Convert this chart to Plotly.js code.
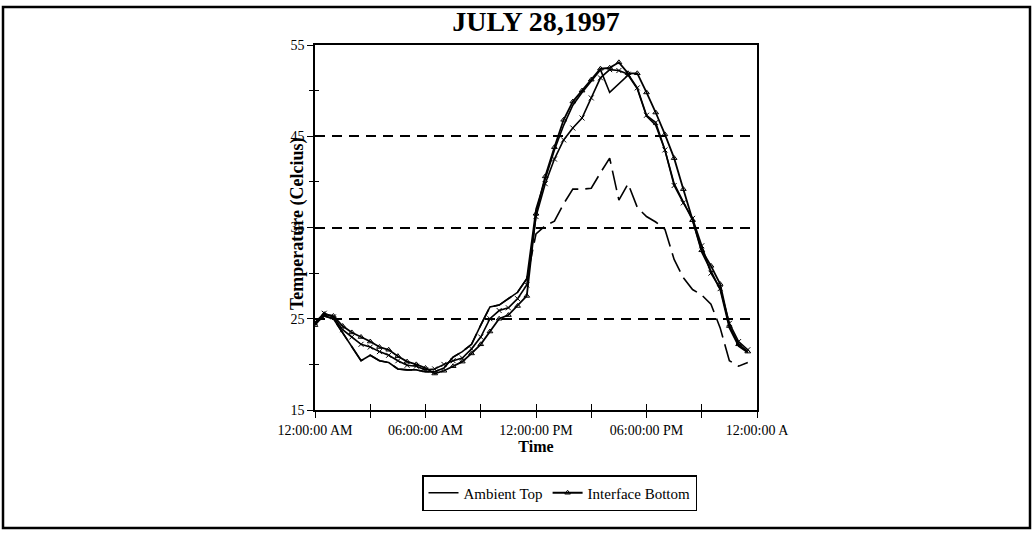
<!DOCTYPE html>
<html><head><meta charset="utf-8">
<script src="https://cdn.plot.ly/plotly-3.0.1.min.js"></script>
<style>html,body{margin:0;padding:0;background:#fff;}</style>
</head><body>
<div id="chart" style="width:1033px;height:535px;"></div>
<script>
// time of day in hours (half-hourly readings)
const hours = [0,0.5,1,1.5,2,2.5,3,3.5,4,4.5,5,5.5,6,6.5,7,7.5,8,8.5,9,9.5,10,10.5,11,11.5,
               12,12.5,13,13.5,14,14.5,15,15.5,16,16.5,17,17.5,18,18.5,19,19.5,20,20.5,21,21.5,22,22.5,23,23.5];

const ambientTop = [24.5,25.3,25.0,23.5,22.0,20.4,21.0,20.4,20.2,19.5,19.4,19.4,19.2,19.2,19.6,20.8,21.4,22.2,24.3,26.3,26.5,27.2,27.9,29.4,
                    37.0,40.3,43.5,46.2,48.4,49.8,51.0,52.3,49.8,50.8,51.7,50.2,47.2,46.2,43.5,39.8,37.8,35.8,32.3,30.2,28.2,24.0,22.0,21.3];

const ambientBottom = [24.5,25.3,25.0,23.5,22.0,20.4,21.0,20.4,20.2,19.5,19.4,19.4,19.2,19.2,19.6,20.8,21.4,22.2,24.3,26.3,26.5,27.2,27.9,29.4,
                       34.3,35.2,35.7,37.6,39.2,39.2,39.3,41.0,42.6,38.0,39.8,37.2,36.2,35.6,34.8,31.5,29.5,28.2,27.6,26.6,24.0,20.4,19.8,20.2];

const interfaceTop = [24.6,25.6,25.2,23.8,23.0,22.2,21.9,21.4,21.0,20.4,19.9,19.8,19.4,19.5,20.0,20.4,20.7,21.7,23.0,25.0,25.9,26.2,27.2,28.7,
                      36.2,39.8,42.5,44.6,45.9,47.0,49.2,51.4,52.3,52.2,51.8,50.3,47.3,46.5,43.5,39.6,37.7,36.0,33.0,30.0,28.3,24.5,22.5,21.6];

const interfaceBottom = [24.3,25.5,25.3,24.2,23.5,23.0,22.5,21.9,21.6,20.9,20.3,20.0,19.6,19.0,19.3,19.8,20.3,21.2,22.2,23.6,25.0,25.4,26.4,27.5,
                         36.5,40.6,43.8,46.8,48.8,50.0,51.2,52.4,52.5,53.1,51.9,51.9,49.8,47.6,45.2,42.6,39.2,35.8,32.5,30.8,28.8,24.2,22.2,21.4];

const xTickVals = [0,3,6,9,12,15,18,21,24];
const xTickText = ["12:00:00 AM","","06:00:00 AM","","12:00:00 PM","","06:00:00 PM","","12:00:00 A"];
const yTickVals = [15,25,35,45,55];
const yTickText = ["15","25","35","45","55"];

const FONT = "Liberation Serif, Times New Roman, serif";

const traces = [
  {x: hours, y: ambientBottom, name: "Ambient Bottom", mode: "lines", showlegend: false,
   line: {color: "#000", width: 1.6, dash: "20px,7px"}},
  {x: hours, y: ambientTop, name: "Ambient Top", mode: "lines",
   line: {color: "#000", width: 1.6}},
  {x: hours, y: interfaceTop, name: "Interface Top", mode: "lines+markers", showlegend: false,
   line: {color: "#000", width: 1.6},
   marker: {symbol: "x-thin-open", size: 5, color: "#000", line: {color: "#000", width: 1}}},
  {x: hours, y: interfaceBottom, name: "Interface Bottom", mode: "lines+markers",
   line: {color: "#000", width: 1.8},
   marker: {symbol: "triangle-up-open", size: 5, color: "#000", line: {color: "#000", width: 1}}},
  {x: [], y: [], xaxis: "x2", yaxis: "y2", showlegend: false, hoverinfo: "skip"}
];

function px(v){ return (v - 315) / 442; }
function py(v){ return (410 - v) / 365; }

const layout = {
  width: 1033, height: 535,
  margin: {l: 315, r: 276, t: 45, b: 125},
  paper_bgcolor: "#fff", plot_bgcolor: "#fff",
  font: {family: FONT, color: "#000", size: 14},
  title: {text: "<b>JULY 28,1997</b>", font: {family: FONT, size: 28, color: "#000"},
          x: 0.5, xref: "paper", xanchor: "center", y: 0.96, yref: "container", yanchor: "middle"},
  xaxis: {range: [0, 24], tickvals: xTickVals, ticktext: xTickText, ticks: "outside", ticklen: 6,
          tickcolor: "#000", tickwidth: 1, showline: true, linecolor: "#000", linewidth: 1.8,
          mirror: true, showgrid: false, zeroline: false, tickfont: {family: FONT, size: 14},
          title: {text: "<b>Time</b>", font: {family: FONT, size: 16}, standoff: 0}},
  yaxis: {range: [15, 55], tickvals: yTickVals, ticktext: yTickText, ticks: "outside", ticklen: 6,
          tickcolor: "#000", showline: true, linecolor: "#000", linewidth: 1.8, mirror: true,
          showgrid: true, gridcolor: "#000", gridwidth: 2, griddash: "10px,7px",
          zeroline: false, tickfont: {family: FONT, size: 14},
          minor: {tickvals: [20,30,40,50], ticks: "outside", ticklen: 4, tickcolor: "#000", showgrid: false}},
  xaxis2: {overlaying: "x", anchor: "y", side: "bottom", range: [0, 24], tickvals: xTickVals,
           ticks: "inside", ticklen: 6, tickcolor: "#000", showticklabels: false, showgrid: false,
           showline: false, zeroline: false},
  yaxis2: {overlaying: "y", anchor: "x", side: "left", range: [15, 55], tickvals: [15,20,25,30,35,40,45,50,55],
           ticks: "inside", ticklen: 4, tickcolor: "#000", showticklabels: false, showgrid: false,
           showline: false, zeroline: false},
  legend: {orientation: "h", x: px(422), xanchor: "left", y: py(475), yanchor: "top",
           bordercolor: "#000", borderwidth: 1.5, bgcolor: "#fff",
           font: {family: FONT, size: 15, color: "#000"}, itemwidth: 30, traceorder: "normal"},
  annotations: [
    {text: "<b>Temperature (Celcius)</b>", xref: "paper", yref: "paper", x: px(297), y: py(224),
     xanchor: "center", yanchor: "middle", textangle: -90, showarrow: false,
     font: {family: FONT, size: 18, color: "#000"}}
  ],
  shapes: [
    {type: "rect", xref: "paper", yref: "paper", x0: px(3), x1: px(1030), y0: py(528), y1: py(7),
     line: {color: "#000", width: 2.5}, fillcolor: "rgba(0,0,0,0)", layer: "below"}
  ]
};

Plotly.newPlot("chart", traces, layout, {displayModeBar: false, staticPlot: true});
</script>
</body></html>
